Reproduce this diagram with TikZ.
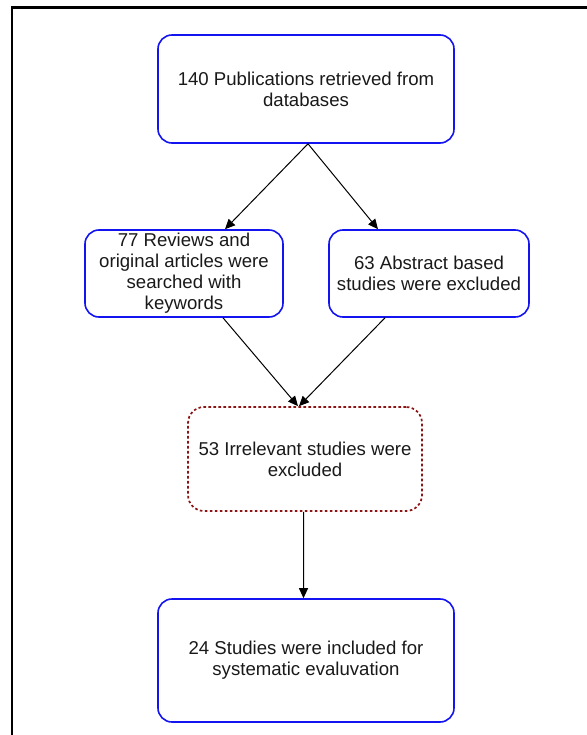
\documentclass[tikz,border=0pt]{standalone}
\usepackage{fontspec}
\setmainfont{Liberation Sans}
\usetikzlibrary{arrows.meta}
\definecolor{boxblue}{RGB}{20,20,240}
\definecolor{dotred}{RGB}{140,20,20}
\begin{document}
\begin{tikzpicture}[x=1bp,y=-1bp,
  every node/.style={font=\fontsize{18.6bp}{21bp}\selectfont, text=black!90, align=center, inner sep=0pt},
  flowbox/.style={draw=boxblue, line width=1.6bp, rounded corners=14bp},
  dropbox/.style={draw=dotred, line width=1.7bp, rounded corners=16bp, dash pattern=on 2.6bp off 2.4bp},
  link/.style={draw=black, line width=1bp, -{Triangle[length=10bp,width=9bp]}}
]
\useasboundingbox (0,0) rectangle (587,735);
% outer frame, running past the right and lower edges
\draw[line width=2.2bp] (12,737) -- (12,7.5) -- (589,7.5);

\node[flowbox, minimum width=296bp, minimum height=108bp] (retrieved) at (306,89)
  {140 Publications retrieved from\\databases};
\node[flowbox, minimum width=198bp, minimum height=87bp] (searched) at (184,273.5)
  {77 Reviews and\\original articles were\\searched with\\keywords};
\node[flowbox, minimum width=200bp, minimum height=87bp] (abstract) at (429,273.5)
  {63 Abstract based\\studies were excluded};
\node[dropbox, minimum width=234bp, minimum height=104bp] (irrelevant) at (305,459)
  {53 Irrelevant studies were\\excluded};
\node[flowbox, minimum width=296bp, minimum height=123bp] (included) at (306,660.5)
  {24 Studies were included for\\systematic evaluvation};

\draw[link] ([xshift=2bp]retrieved.south) -- ([xshift=41bp]searched.north);
\draw[link] ([xshift=2bp]retrieved.south) -- ([xshift=-51bp]abstract.north);
\draw[link] ([xshift=39bp]searched.south) -- ([xshift=-7bp]irrelevant.north);
\draw[link] ([xshift=-44bp]abstract.south) -- ([xshift=-6bp]irrelevant.north);
\draw[link] ([xshift=-1.5bp]irrelevant.south) -- ([xshift=-2.5bp]included.north);
\end{tikzpicture}
\end{document}
